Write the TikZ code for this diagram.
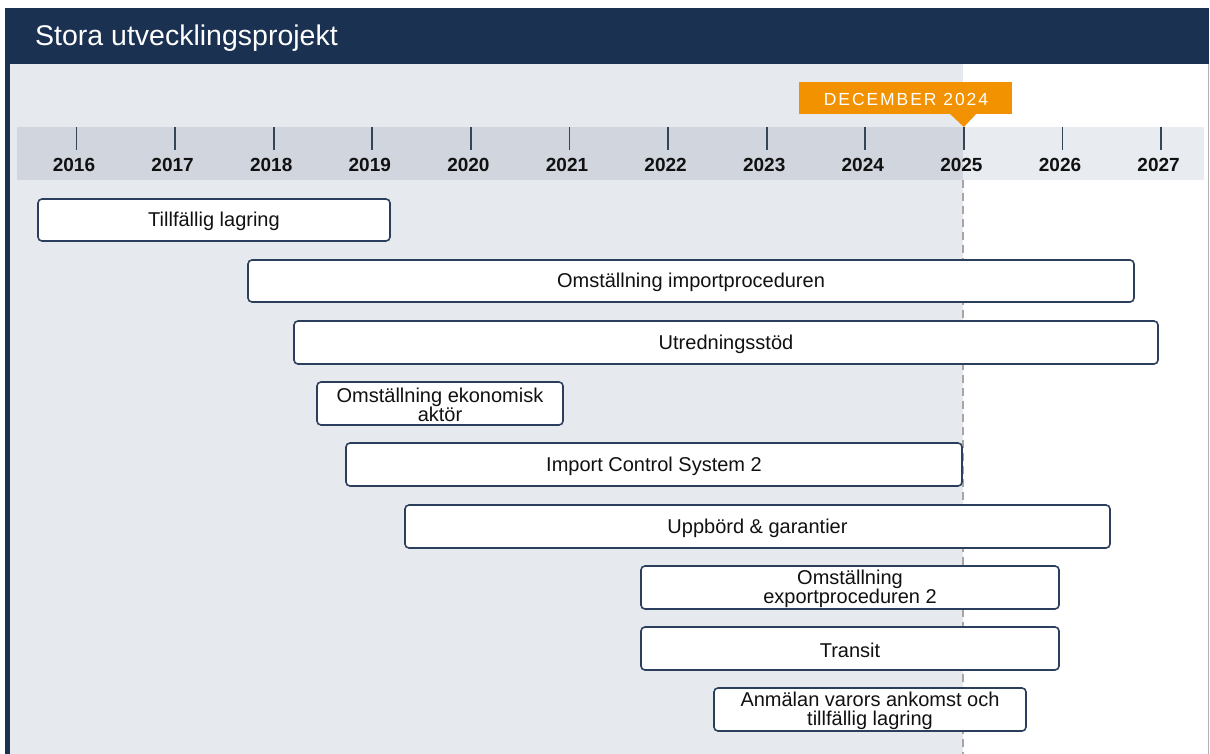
\documentclass[tikz,border=0pt]{standalone}
\usepackage{fontspec}
\setmainfont{Liberation Sans}
\newfontfamily\decfont[LetterSpace=11]{Liberation Sans}
\definecolor{navy}{HTML}{1B3152}
\definecolor{bodybg}{HTML}{E6E9EE}
\definecolor{axisdark}{HTML}{D1D5DE}
\definecolor{axislight}{HTML}{E8EBF0}
\definecolor{orangeM}{HTML}{F39200}
\definecolor{barline}{HTML}{2B3F5C}
\definecolor{tickc}{HTML}{364457}
\definecolor{txt}{HTML}{111111}
\tikzset{
  bar/.style={draw=barline, line width=1.6pt, fill=white, rounded corners=4pt, inner sep=0pt},
  bartext/.style={font=\fontsize{20}{18.5}\selectfont, text=txt, align=center, inner sep=0pt},
  yearlab/.style={font=\bfseries\fontsize{19}{19}\selectfont, text=txt, inner sep=0pt},
  tickline/.style={draw=tickc, line width=1.9pt}
}
\begin{document}
\begin{tikzpicture}[x=1pt,y=-1pt]
\useasboundingbox (0,0) rectangle (1210,754);
\fill[white] (0,0) rectangle (1210,754);
% body
\fill[bodybg] (8,64) rectangle (963,754);
\fill[white] (963,64) rectangle (1208,754);
\draw[gray!60, line width=0.8pt] (1208,64) -- (1208,754);
% header
\fill[navy] (5,8) rectangle (1209,64);
\node[anchor=west, text=white, font=\fontsize{28.5}{30}\selectfont, inner sep=0pt] (title) at (35,38) {Stora utvecklingsprojekt};
% left border
\fill[navy] (5,8) rectangle (10,754);
% axis band
\fill[axisdark] (17,127) rectangle (963,180);
\fill[axislight] (963,127) rectangle (1204,180);
% ticks and years
\foreach \yr [count=\i from 0] in {2016,2017,2018,2019,2020,2021,2022,2023,2024,2025,2026,2027} {
  \coordinate (t\yr) at ({76.5+\i*98.6},127);
  \draw[tickline] (t\yr) -- ++(0,23);
  \node[yearlab] (y\yr) at ({74+\i*98.6},165) {\yr};
}
% dashed line
\coordinate (dtop) at (963,180);
\coordinate (dbot) at (963,754);
\draw[gray!70, line width=1.4pt, dash pattern=on 8pt off 5pt] (dtop) -- (dbot);
% December marker
\fill[orangeM] (799,82) rectangle (1012,114);
\fill[orangeM] (949,113) -- (977,113) -- (t2025) -- cycle;
\node[text=white, font=\decfont\fontsize{17.5}{18}\selectfont, inner sep=0pt] (dec) at (906,99) {DECEMBER 2024};
% bars
\newcommand{\projbar}[6]{%
  \draw[bar] (#2,#3) rectangle (#4,#5);
  \node[bartext] (#1) at ({(#2+#4)/2},{(#3+#5)/2+1.5}) {#6};
}
\projbar{b1}{38}{199}{390}{241}{Tillfällig lagring}
\projbar{b2}{248}{260}{1134}{302}{Omställning importproceduren}
\projbar{b3}{294}{321}{1158}{364}{Utredningsstöd}
\projbar{b4}{317}{382}{563}{425}{Omställning ekonomisk\\aktör}
\projbar{b5}{346}{443}{962}{486}{Import Control System 2}
\projbar{b6}{405}{505}{1110}{548}{Uppbörd \& garantier}
\projbar{b7}{641}{566}{1059}{609}{Omställning\\exportproceduren 2}
\projbar{b8}{641}{627}{1059}{670}{Transit}
\projbar{b9}{714}{688}{1026}{731}{Anmälan varors ankomst och\\tillfällig lagring}
\end{tikzpicture}
\end{document}
